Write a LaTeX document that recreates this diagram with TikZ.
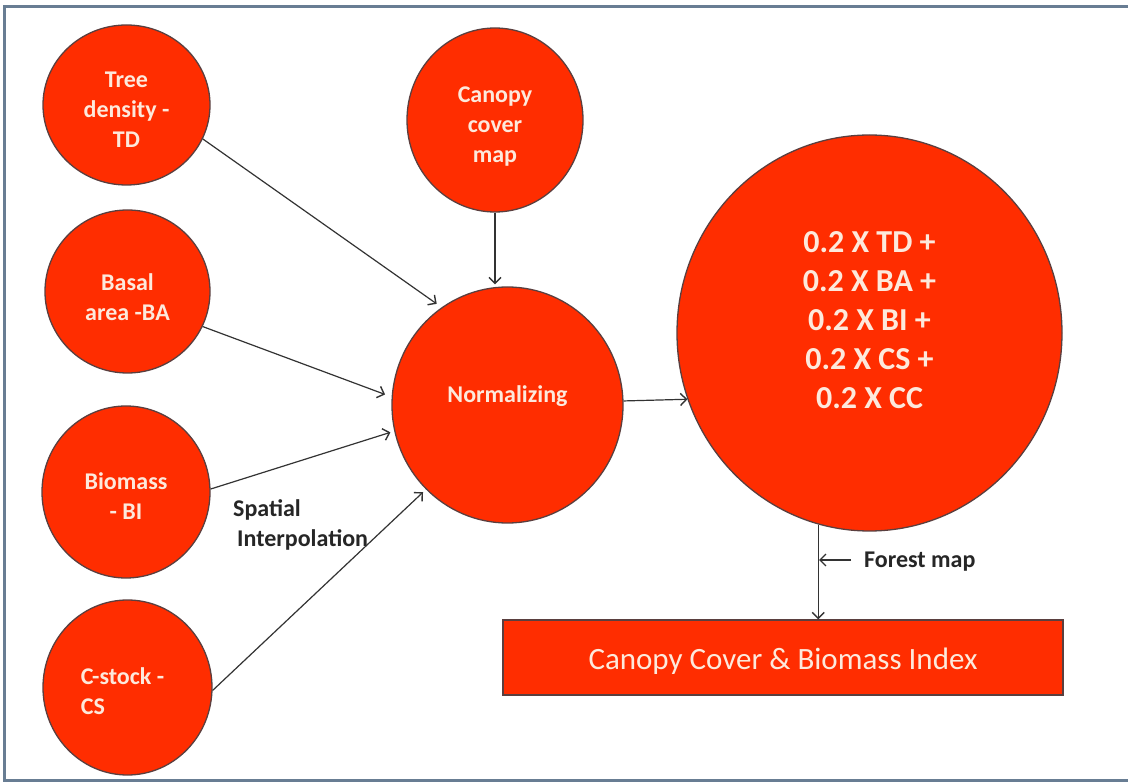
\documentclass[tikz,border=0pt]{standalone}
\usepackage{fontspec}
\setmainfont{Carlito}
\usetikzlibrary{shapes.geometric,arrows.meta}
\definecolor{bubred}{HTML}{FF2D00}
\definecolor{bubedge}{HTML}{5A3F3F}
\definecolor{creamtxt}{HTML}{FDE9DC}
\definecolor{framecol}{HTML}{687D93}
\definecolor{arrcol}{HTML}{333333}
\begin{document}
\begin{tikzpicture}[x=1pt,y=-1pt,
  bubble/.style={ellipse, fill=bubred, draw=bubedge, line width=1.3pt, inner sep=0pt},
  btxt/.style={font=\fontsize{24}{30}\selectfont\bfseries, text=creamtxt, align=center, inner sep=0pt},
  bigtxt/.style={font=\fontsize{32}{39}\selectfont\bfseries, text=creamtxt, align=center, inner sep=0pt},
  rtxt/.style={font=\fontsize{31}{37}\selectfont, text=creamtxt, inner sep=0pt},
  annot/.style={font=\fontsize{24}{30}\selectfont\bfseries, text=black!85, inner sep=0pt},
  arr/.style={draw=arrcol, line width=1.2pt, -{Straight Barb[length=6pt,width=12pt,line width=1.4pt]}}
]
\useasboundingbox (0,0) rectangle (1128,783);
\fill[white] (0,0) rectangle (1128,783);
\draw[framecol, line width=3pt] (1128,7) -- (4,7) -- (4,780) -- (1128,780);

\node[bubble, minimum width=167pt, minimum height=160pt,
  label={[btxt,yshift=-5pt]center:{Tree\\density -\\TD}}] (td) at (126.5,105) {};
\node[bubble, minimum width=165pt, minimum height=163pt,
  label={[btxt,yshift=-5.5pt]center:{Basal\\area -BA}}] (ba) at (127.5,291.5) {};
\node[bubble, minimum width=168pt, minimum height=172pt,
  label={[btxt,yshift=-4pt]center:{Biomass\\- BI}}] (bi) at (126,492) {};
\node[bubble, minimum width=169pt, minimum height=175pt,
  label={[btxt,align=left,xshift=-5pt,yshift=-3.5pt]center:{C-stock -\\CS}}] (cs) at (127.5,687.5) {};
\node[bubble, minimum width=176pt, minimum height=184pt,
  label={[btxt,yshift=-7pt]center:{Canopy\\cover\\map}}] (cc) at (495,120) {};
\node[bubble, minimum width=231pt, minimum height=236pt,
  label={[btxt,yshift=9pt]center:{Normalizing}}] (norm) at (507.5,405) {};
\node[bubble, minimum width=385pt, minimum height=396pt,
  label={[bigtxt,yshift=13pt]center:{0.2 X TD +\\0.2 X BA +\\0.2 X BI +\\0.2 X CS +\\0.2 X CC}}] (big) at (869.5,333) {};
\node[rectangle, fill=bubred, draw=bubedge, line width=1.3pt, minimum width=560pt, minimum height=75pt, inner sep=0pt,
  label={[rtxt,yshift=-4pt]center:{Canopy Cover \& Biomass Index}}] (index) at (783,657.5) {};

\node[annot, anchor=west, align=left] (spi) at (233,525) {Spatial\\\hspace*{4pt}Interpolation};
\node[annot, anchor=west] (fm) at (864,562) {Forest map};
\coordinate (fmtip) at (819,560);

\draw[arr, shorten >=6pt] (td.-24) -- (norm.124.5);
\draw[arr, shorten >=7pt] (ba.-25.5) -- (norm.176.8);
\draw[arr, shorten >=4pt] (bi.2.7) -- (norm.193.2);
\draw[arr, shorten >=4pt] (cs.-2.7) -- (norm.226.3);
\draw[arr] (cc.south) -- ([yshift=2pt]cc.south |- norm.north);
\draw[arr] (norm.2.5) -- (big.200);
\draw[arr] (big.255.3) -- (big.255.3 |- index.north);
\draw[arr] ([xshift=-13pt,yshift=2pt]fm.west) -- (fmtip);
\end{tikzpicture}
\end{document}
